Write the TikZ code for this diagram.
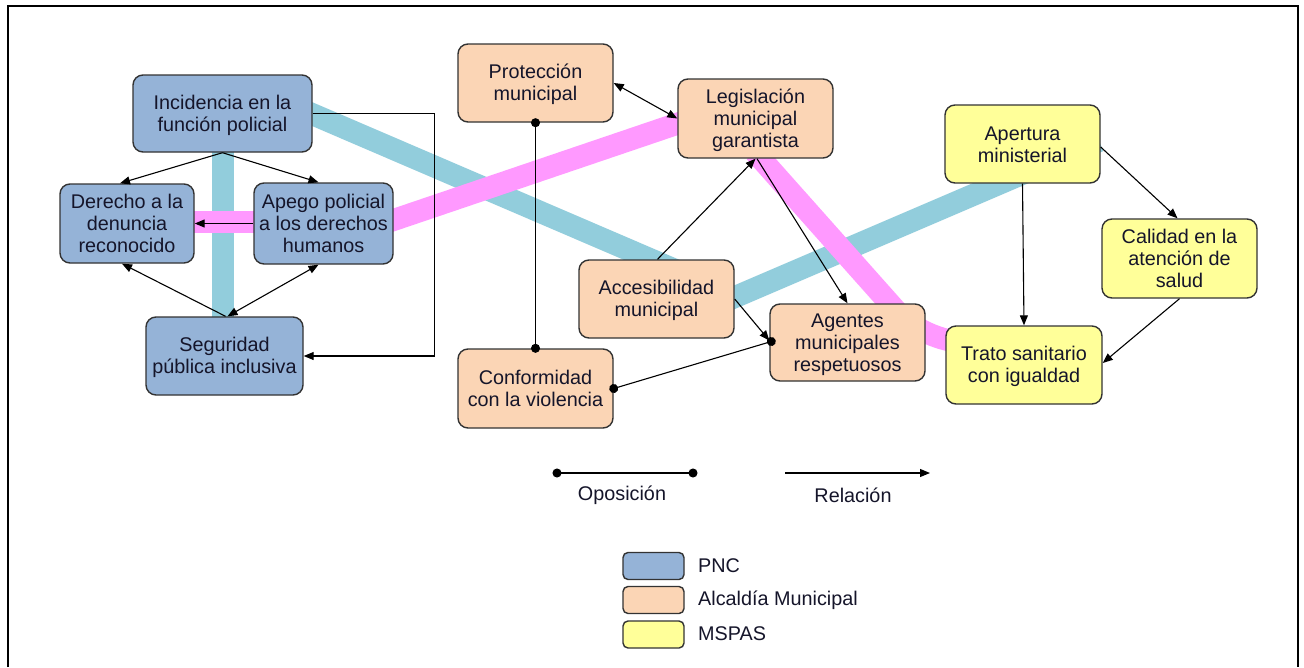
\documentclass[tikz,border=0pt]{standalone}
\usepackage{fontspec}
\setmainfont{Liberation Sans}
\usetikzlibrary{arrows.meta}
\definecolor{pncfill}{HTML}{95B3D7}
\definecolor{almfill}{HTML}{FBD5B5}
\definecolor{msfill}{HTML}{FFFF99}
\definecolor{bandblue}{HTML}{92CDDC}
\definecolor{bandpink}{HTML}{FF99FF}
\definecolor{edgegray}{HTML}{333333}
\definecolor{txt}{HTML}{15152A}
\newcommand\mytop{\rule{0pt}{18pt}}
\newcommand\mybot{\rule[-4pt]{0pt}{4pt}}
\begin{document}
\begin{tikzpicture}[x=1pt,y=-1pt,
  box/.style={draw=edgegray, line width=1.4pt, rounded corners=10pt, align=center,
    inner sep=0pt, font=\fontsize{19.8}{22}\selectfont, text=txt},
  pnc/.style={box, fill=pncfill},
  alc/.style={box, fill=almfill},
  msp/.style={box, fill=msfill},
  band/.style={line width=22pt, line cap=butt},
  arr/.style={line width=1.1pt, draw=black, -{Triangle[length=10pt,width=8pt]}},
  dbl/.style={line width=1.1pt, draw=black, {Triangle[length=10pt,width=8pt]}-{Triangle[length=10pt,width=8pt]}},
  opp/.style={line width=1.1pt, draw=black, {Circle[length=9pt]}-{Circle[length=9pt]}, shorten <=-4.5pt, shorten >=-4.5pt},
  legbox/.style={draw=edgegray, line width=1.4pt, rounded corners=5pt, minimum width=61pt, minimum height=27pt, inner sep=0pt},
  lbl/.style={font=\fontsize{19.8}{22}\selectfont, text=txt, inner sep=0pt}
]
\useasboundingbox (0,0) rectangle (1304,667);
\fill[white] (0,0) rectangle (1304,667);
% frame
\draw[line width=2.3pt] (8,667) -- (8,6) -- (1298,6) -- (1298,667);

% bands
\draw[band, bandblue] (305,111) -- (680,272);
\draw[band, bandblue] (700,312) -- (1099,141);
\draw[band, bandblue] (223,140) -- (223,330);
\draw[band, bandpink] (180,222) -- (270,222);
\draw[band, bandpink] (370,228) -- (700,116);
\draw[band, bandpink, rounded corners=40pt] (755,152) -- (924,342) -- (975,342);

% PNC nodes
\node[pnc, minimum width=179pt, minimum height=77pt] (inc) at (222.5,113.5) {\mytop Incidencia en la\\función policial\mybot};
\node[pnc, minimum width=134pt, minimum height=79pt] (der) at (127,223.5) {\mytop Derecho a la\\denuncia\\reconocido\mybot};
\node[pnc, minimum width=139pt, minimum height=81pt] (ape) at (323.5,223.5) {\mytop Apego policial\\a los derechos\\humanos\mybot};
\node[pnc, minimum width=157pt, minimum height=78pt] (seg) at (224.5,356) {\mytop Seguridad\\pública inclusiva\mybot};

% Alcaldia nodes
\node[alc, minimum width=155pt, minimum height=78pt] (pro) at (535.5,83) {\mytop Protección\\municipal\mybot};
\node[alc, minimum width=155pt, minimum height=79pt] (leg) at (755.5,118.5) {\mytop Legislación\\municipal\\garantista\mybot};
\node[alc, minimum width=155pt, minimum height=78pt] (acc) at (656.5,299) {\mytop Accesibilidad\\municipal\mybot};
\node[alc, minimum width=155pt, minimum height=79pt] (con) at (535.5,388.5) {\mytop Conformidad\\con la violencia\mybot};
\node[alc, minimum width=155pt, minimum height=77pt] (age) at (847.5,342.5) {\mytop Agentes\\municipales\\respetuosos\mybot};

% MSPAS nodes
\node[msp, minimum width=155pt, minimum height=78pt] (apt) at (1022.5,144) {\mytop Apertura\\ministerial\mybot};
\node[msp, minimum width=155pt, minimum height=79pt] (cal) at (1179.5,258.5) {\mytop Calidad en la\\atención de\\salud\mybot};
\node[msp, minimum width=156pt, minimum height=78pt] (tra) at (1024,365) {\mytop Trato sanitario\\con igualdad\mybot};

% PNC connectors
\draw[arr] (inc.south) -- ([xshift=-7pt]der.north);
\draw[arr] (inc.south) -- ([xshift=-5pt]ape.north);
\draw[arr] (ape.west) -- (der.east);
\draw[arr] ([xshift=1pt]seg.north) -- ([xshift=-5pt]der.south);
\draw[dbl] ([xshift=3pt]seg.north) -- ([xshift=-5pt]ape.south);
\draw[arr] (inc.east) -- ++(122,0) |- (seg.east);

% Alcaldia connectors
\draw[dbl] (pro.east) -- (leg.west);
\draw[opp] (pro.south) -- (con.north);
\draw[arr] ([xshift=1pt]acc.north) -- (leg.south);
\draw[arr] ([xshift=1.5pt]leg.south) -- (age.north);
\draw[arr] (acc.east) -- ([yshift=2pt]age.west);
\draw[opp] (con.east) -- ([xshift=2pt,yshift=1pt]age.west);

% MSPAS connectors
\draw[arr] ([yshift=-3pt]apt.east) -- ([xshift=-2pt]cal.north);
\draw[arr] (apt.south) -- (tra.north);
\draw[arr] (cal.south) -- ([yshift=2pt]tra.east);

% legend: line types
\coordinate (opA) at (557,473);
\coordinate (opB) at (693,473);
\draw[opp] (opA) -- (opB);
\node[lbl] (oplbl) at (622,495) {Oposición};
\coordinate (relA) at (785,473);
\coordinate (relB) at (930,473);
\draw[arr] (relA) -- (relB);
\node[lbl] (rellbl) at (853,495) {Relación};

% legend: colours
\node[legbox, fill=pncfill] (lg1) at (653.5,566) {};
\node[legbox, fill=almfill] (lg2) at (653.5,600) {};
\node[legbox, fill=msfill] (lg3) at (653.5,634.5) {};
\node[lbl, anchor=west] (lt1) at (698,566) {PNC};
\node[lbl, anchor=west] (lt2) at (698,600) {Alcaldía Municipal};
\node[lbl, anchor=west] (lt3) at (698,634) {MSPAS};
\end{tikzpicture}
\end{document}
